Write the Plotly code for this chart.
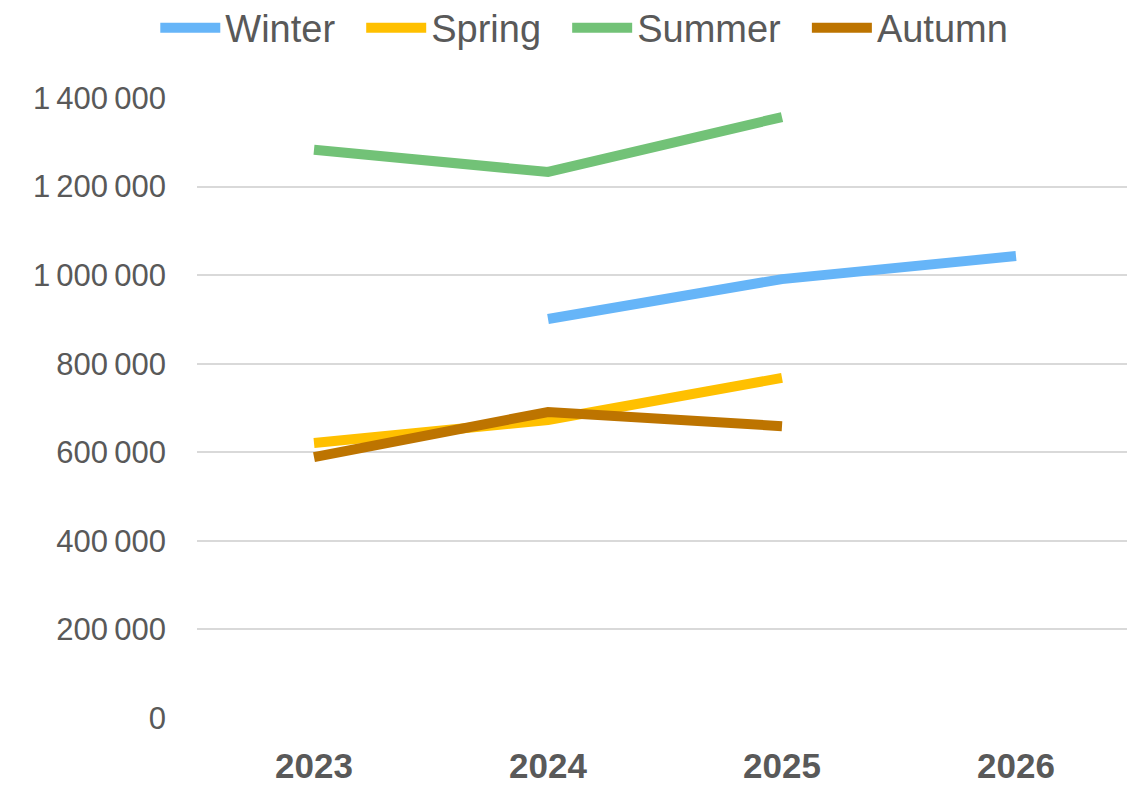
import plotly.graph_objects as go

years = ["2023", "2024", "2025", "2026"]
winter = [None, 901000, 991000, 1043000]
spring = [621000, 673000, 768000, None]
summer = [1283000, 1233000, 1357000, None]
autumn = [589000, 691000, 659000, None]

series = [
    ("Winter", winter, "#66B5F8"),
    ("Spring", spring, "#FFC000"),
    ("Summer", summer, "#72C277"),
    ("Autumn", autumn, "#BD7400"),
]

tick_vals = [0, 200000, 400000, 600000, 800000, 1000000, 1200000, 1400000]
tick_text = ["0", "200\u202f000", "400\u202f000", "600\u202f000", "800\u202f000",
             "1\u202f000\u202f000", "1\u202f200\u202f000", "1\u202f400\u202f000"]

fig = go.Figure()
for name, vals, color in series:
    fig.add_trace(go.Scatter(
        x=years, y=vals, name=name + "\u00a0\u00a0", mode="lines",
        line=dict(color=color, width=10),
        connectgaps=False,
    ))

fig.update_layout(
    width=1127, height=780,
    paper_bgcolor="white", plot_bgcolor="white",
    margin=dict(l=189, r=2, t=90, b=70, autoexpand=False),
    font=dict(family="Liberation Sans, Arial, sans-serif", color="#595959"),
    legend=dict(
        orientation="h", x=0.425, xanchor="center", y=1.113, yanchor="middle",
        yref="paper", font=dict(size=38, color="#595959"),
        itemwidth=60, traceorder="normal", valign="middle",
    ),
    showlegend=True,
)

fig.update_xaxes(
    type="category", range=[-0.5, 3.5], showgrid=False, zeroline=False, showline=False,
    tickfont=dict(size=35, family="Liberation Sans, Arial", color="#595959", weight="bold"),
    ticks="", ticklabelstandoff=24, automargin=False,
)
fig.update_yaxes(
    range=[0, 1400000], tickvals=tick_vals, ticktext=tick_text,
    showgrid=True, gridcolor="#D9D9D9", gridwidth=2, zeroline=False,
    tickfont=dict(size=31, color="#595959"), ticks="", ticklabelstandoff=30,
    automargin=False,
)

fig.write_html("out.html")
